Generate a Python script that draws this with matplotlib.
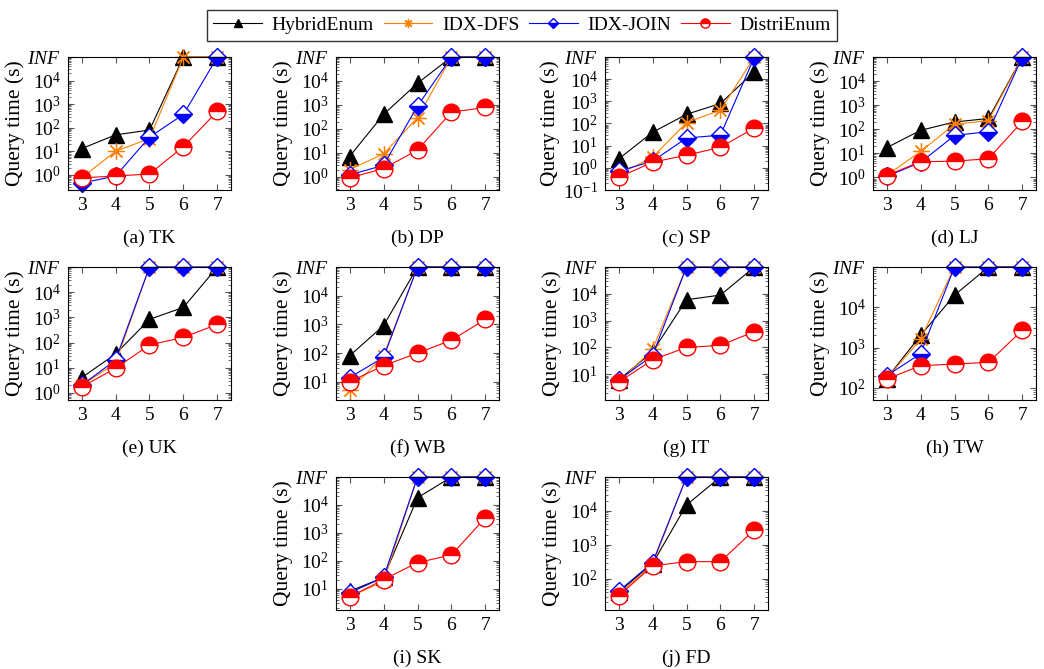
import matplotlib
matplotlib.use('Agg')
import matplotlib.pyplot as plt
from matplotlib.ticker import FixedLocator, LogLocator, FuncFormatter, NullFormatter
import numpy as np

plt.rcParams['font.family'] = ['Liberation Serif', 'DejaVu Serif']
plt.rcParams['mathtext.fontset'] = 'custom'
plt.rcParams['mathtext.rm'] = 'Liberation Serif'
plt.rcParams['mathtext.it'] = 'Liberation Serif:italic'

INF = 1e5
sizes = [3, 4, 5, 6, 7]
methods = ['HybridEnum', 'IDX-DFS', 'IDX-JOIN', 'DistriEnum']
panels = ['(a) TK', '(b) DP', '(c) SP', '(d) LJ', '(e) UK',
          '(f) WB', '(g) IT', '(h) TW', '(i) SK', '(j) FD']

# query time (s) per panel, order: HybridEnum, IDX-DFS, IDX-JOIN, DistriEnum
tk = [[13, 50, 80, INF, INF], [0.75, 10, 35, INF, INF],
      [0.45, 0.9, 40, 370, INF], [0.75, 0.9, 1.1, 16, 500]]
dp = [[7, 400, 8000, INF, INF], [2, 9, 290, INF, INF],
      [1.2, 3, 900, INF, INF], [0.9, 2.2, 13, 500, 780]]
sp = [[2.5, 40, 260, 800, 22000], [0.5, 3, 110, 400, INF],
      [0.7, 2, 22, 30, INF], [0.37, 1.8, 3.7, 8.5, 63]]
lj = [[17, 90, 200, 280, INF], [1.2, 12, 160, 230, INF],
      [1.1, 4.2, 55, 80, INF], [1.2, 4.5, 4.7, 6, 210]]
uk = [[4, 35, 830, 2500, INF], [2, 15, INF, INF, INF],
      [2, 20, INF, INF, INF], [1.7, 9.5, 80, 160, 530]]
wb = [[80, 900, INF, INF, INF], [5, 80, INF, INF, INF],
      [14, 70, INF, INF, INF], [10, 36, 100, 280, 1500]]
it = [[6, 70, 6000, 9000, INF], [5, 85, INF, INF, INF],
      [6, 50, INF, INF, INF], [5, 35, 100, 120, 390]]
tw = [[170, 2000, 20000, INF, INF], [170, 1600, INF, INF, INF],
      [200, 700, INF, INF, INF], [165, 355, 390, 430, 2700]]
sk = [[8, 25, 18000, INF, INF], [5, 18, INF, INF, INF],
      [7, 25, INF, INF, INF], [5, 21, 85, 160, 3500]]
fd = [[40, 280, 15000, INF, INF], [35, 260, INF, INF, INF],
      [43, 300, INF, INF, INF], [31, 240, 320, 320, 2800]]
data = [tk, dp, sp, lj, uk, wb, it, tw, sk, fd]
ymins = [0.23, 0.28, 0.1, 0.3, 0.52, 2.3, 1.1, 50, 1.7, 12]

styles = [
    dict(color='black', marker='^', ms=11, mfc='black', mec='black'),
    dict(color='#ff8000', marker=(8, 2, 0), ms=12, mec='#ff8000', mew=0.9),
    dict(color='blue', marker='D', ms=9.5, mfc='blue', mec='blue',
         fillstyle='bottom', markerfacecoloralt='white', mew=1.0),
    dict(color='red', marker='o', ms=12, mfc='red', mec='red',
         fillstyle='top', markerfacecoloralt='white', mew=1.0),
]

fig = plt.figure(figsize=(10.44, 6.69), dpi=100)
W, H = 1044, 669
lefts = [68, 336, 605, 873]
rows = [(57, 190), (267, 400), (477, 610)]
pos = [(lefts[i % 4], rows[i // 4]) for i in range(8)] + \
      [(lefts[1], rows[2]), (lefts[2], rows[2])]


def fmt(v, p):
    if v > 0.5 * INF:
        return r'$\mathit{INF}$'
    return r'$10^{%d}$' % int(round(np.log10(v)))


handles = []
for k in range(10):
    (l, (t, b)) = pos[k]
    ax = fig.add_axes([l / W, 1 - b / H, 163 / W, (b - t) / H])
    for m in range(4):
        ln, = ax.plot(sizes, data[k][m], lw=0.8, label=methods[m], **styles[m])
        ln.set_clip_on(False)
        if k == 0:
            handles.append(ln)
    ax.set_yscale('log')
    ax.set_ylim(ymins[k], INF)
    ax.set_xlim(2.6, 7.4)
    ax.set_xticks(sizes)
    dec = [10.0 ** e for e in range(-1, 5) if 10.0 ** e >= ymins[k] * 0.999]
    ax.yaxis.set_major_locator(FixedLocator(dec + [INF]))
    ax.yaxis.set_major_formatter(FuncFormatter(fmt))
    ax.yaxis.set_minor_locator(LogLocator(base=10, subs=np.arange(2, 10), numticks=20))
    ax.yaxis.set_minor_formatter(NullFormatter())
    ax.tick_params(which='both', direction='in', top=True, right=True,
                   labelsize=14, color='#555555')
    ax.tick_params(which='major', length=4, width=0.8, pad=5)
    ax.tick_params(which='minor', length=2.5, width=0.6)
    ax.set_ylabel('Query time (s)', fontsize=15.5, labelpad=2)
    for s in ax.spines.values():
        s.set_linewidth(0.8)
    fig.text((l + 81.5) / W, 1 - (b + 48) / H, panels[k],
             ha='center', va='center', fontsize=14)

fig.legend(handles=handles, loc='upper center', bbox_to_anchor=(0.5, 1.0),
           ncol=4, fontsize=14, frameon=True, fancybox=False, edgecolor='black',
           borderpad=0.35, handlelength=2.5, columnspacing=0.5, handletextpad=0.5,
           markerscale=0.55)
fig.savefig('out.png', dpi=100)
